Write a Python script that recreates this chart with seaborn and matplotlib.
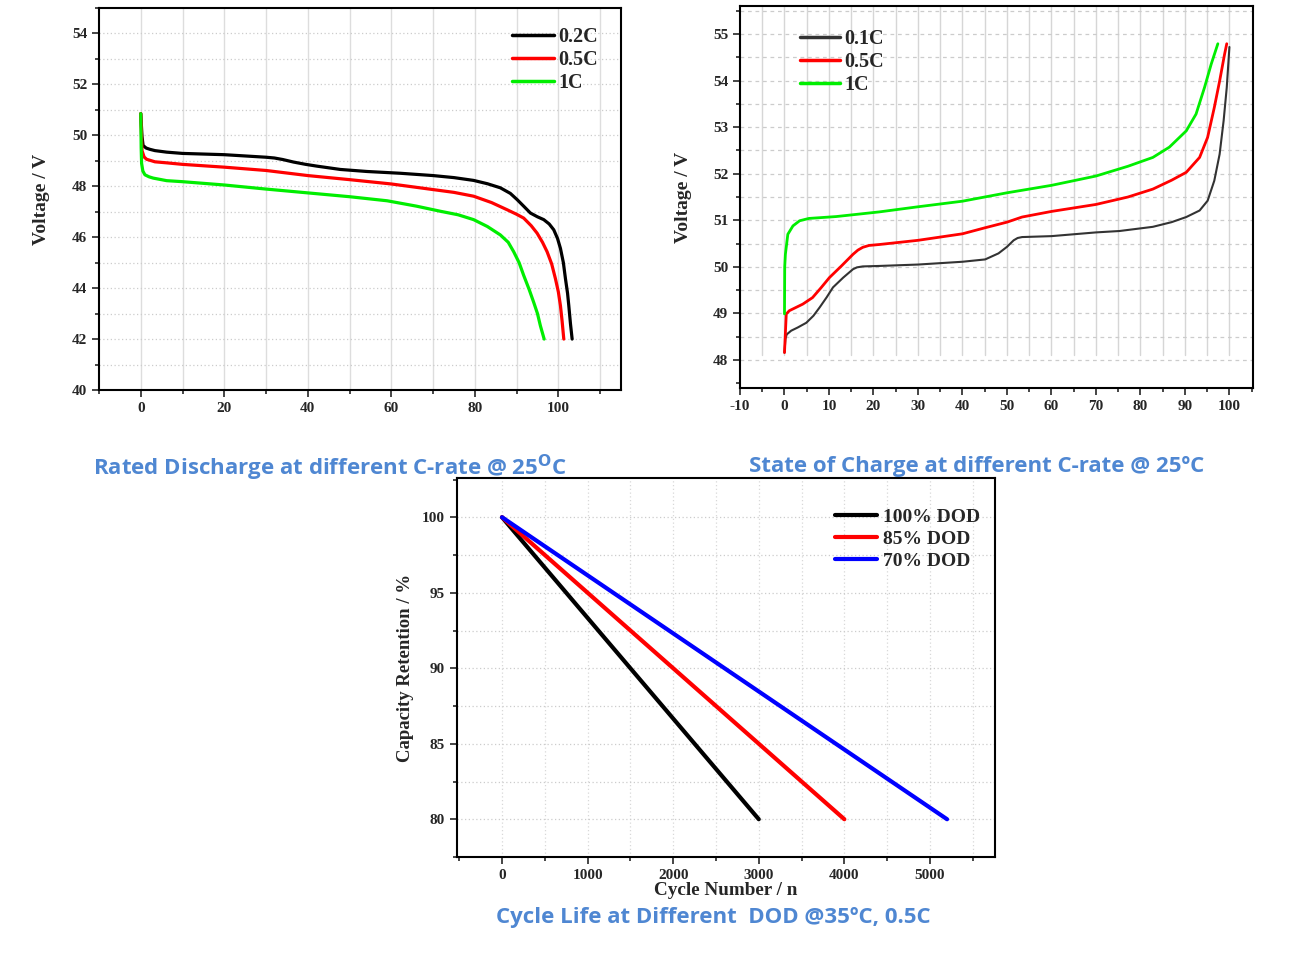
import matplotlib
matplotlib.use("Agg")
import matplotlib.pyplot as plt
import pandas as pd
import seaborn as sns
import numpy as np
from matplotlib.ticker import MultipleLocator

# discharge curves, x = capacity %, y = voltage
dis_02c_x = [0, 0.3, 0.56, 1.3, 2.2, 3.4, 6.2, 10, 20, 26, 30, 32, 34, 36.6, 39.5, 42.2, 47.8, 54.2, 62.2,
             70, 75, 79.7, 83, 86.1, 88.5, 90.1, 91.8, 93.3, 95, 96.5, 97.8, 98.9, 99.8, 100.5, 101.2,
             101.7, 102.2, 102.5, 102.9, 103.3]
dis_02c_y = [50.85, 49.95, 49.6, 49.5, 49.45, 49.4, 49.34, 49.29, 49.24, 49.18, 49.14, 49.11, 49.05,
             48.95, 48.86, 48.79, 48.66, 48.58, 48.51, 48.42, 48.34, 48.23, 48.1, 47.94, 47.72, 47.48,
             47.2, 46.95, 46.8, 46.69, 46.52, 46.29, 45.95, 45.56, 45.0, 44.37, 43.8, 43.31, 42.6, 42.0]
dis_05c_x = [0, 0.3, 0.8, 1.4, 3.4, 6.2, 10, 20, 30, 40, 50, 60, 70, 75, 79.7, 84, 87.7, 90, 91.7, 93.5,
             94.9, 96.2, 97.3, 98.4, 99.3, 100, 100.5, 100.9, 101.3]
dis_05c_y = [50.85, 49.4, 49.15, 49.06, 48.96, 48.92, 48.86, 48.75, 48.62, 48.42, 48.26, 48.09, 47.87,
             47.76, 47.61, 47.36, 47.08, 46.9, 46.75, 46.45, 46.16, 45.8, 45.43, 44.95, 44.37, 43.85, 43.31,
             42.7, 42.0]
dis_1c_x = [0, 0.1, 0.2, 0.5, 1.0, 2, 3, 6.2, 10, 20, 30, 40, 50, 59, 66, 71.7, 76, 79.7, 83, 86.1, 88,
            89.3, 90.6, 91.7, 93, 94.1, 95, 95.7, 96.6]
dis_1c_y = [50.85, 49.5, 48.9, 48.6, 48.45, 48.37, 48.32, 48.22, 48.18, 48.05, 47.89, 47.74, 47.59, 47.43,
            47.22, 47.02, 46.88, 46.69, 46.42, 46.09, 45.8, 45.43, 45.0, 44.5, 43.95, 43.44, 43.0, 42.52, 42.0]

# charge curves, x = state of charge %, y = voltage
chg_01c_x = [0, 0.2, 0.5, 1.5, 3, 4.9, 6.5, 7.9, 9.5, 10.9, 13.2, 15.4, 16.3, 17.6, 21.3, 30, 40, 45.1,
             48.1, 50, 51.5, 52.4, 53.4, 60, 70, 75.3, 82.8, 87, 90.3, 93.3, 95.1, 96.6, 97.8, 98.7, 99.4, 100]
chg_01c_y = [48.16, 48.45, 48.55, 48.63, 48.7, 48.8, 48.95, 49.13, 49.35, 49.56, 49.77, 49.95, 49.99,
             50.01, 50.02, 50.05, 50.11, 50.16, 50.29, 50.43, 50.57, 50.62, 50.64, 50.66, 50.74, 50.77,
             50.86, 50.96, 51.07, 51.21, 51.42, 51.85, 52.42, 53.14, 53.85, 54.72]
chg_05c_x = [0, 0.4, 1.1, 4.1, 6.3, 8.2, 10.1, 12.8, 15.4, 16.5, 17.6, 19, 21.3, 30, 40, 45.1, 50, 53.4,
             60, 70, 77.2, 82.8, 87, 90.3, 93.3, 95.1, 96.6, 97.8, 98.9, 99.4]
chg_05c_y = [48.16, 48.99, 49.06, 49.2, 49.34, 49.55, 49.77, 50.02, 50.27, 50.36, 50.42, 50.46, 50.48,
             50.57, 50.71, 50.84, 50.96, 51.07, 51.19, 51.34, 51.5, 51.67, 51.86, 52.03, 52.35, 52.78,
             53.42, 53.99, 54.56, 54.79]
chg_1c_x = [0, 0.05, 0.2, 0.75, 1.9, 3.4, 5.5, 11.6, 21.3, 30, 40, 50, 60, 70, 77.2, 82.8, 86.5, 90.3,
            92.5, 94.4, 95.9, 97.4]
chg_1c_y = [48.99, 50.0, 50.27, 50.7, 50.88, 50.99, 51.04, 51.08, 51.18, 51.29, 51.41, 51.59, 51.75,
            51.95, 52.16, 52.35, 52.57, 52.92, 53.28, 53.85, 54.35, 54.79]

# cycle life
cyc_start = 0
cyc_end = [3000, 4000, 5200]
cap_start = 100
cap_end = 80
dod_labels = ["100% DOD", "85% DOD", "70% DOD"]

title_color = "#4F87D2"
serif = "Liberation Serif"

sns.set_style("white")
plt.rcParams["font.family"] = serif
plt.rcParams["font.weight"] = "bold"
plt.rcParams["axes.unicode_minus"] = False
plt.rcParams["lines.solid_joinstyle"] = "round"

fig = plt.figure(figsize=(13.15, 9.59), dpi=100)
W, H = 1315, 959


def axes_px(l, t, r, b):
    return fig.add_axes([l / W, 1 - b / H, (r - l) / W, (b - t) / H])


def style_axes(ax):
    for s in ax.spines.values():
        s.set_linewidth(1.5)
        s.set_color("black")
    ax.tick_params(which="both", direction="out", bottom=True, left=True, top=False, right=False,
                   labelsize=11, width=1.2)
    ax.tick_params(which="major", length=5)
    ax.tick_params(which="minor", length=3)
    for lab in ax.get_xticklabels() + ax.get_yticklabels():
        lab.set_fontweight("bold")


def style_legend(leg, lw):
    for h in leg.get_lines():
        h.set_linewidth(lw)


# ---- discharge ----
ax1 = axes_px(99, 8, 621, 390)
df1 = pd.concat([
    pd.DataFrame({"x": dis_02c_x, "y": dis_02c_y, "rate": "0.2C"}),
    pd.DataFrame({"x": dis_05c_x, "y": dis_05c_y, "rate": "0.5C"}),
    pd.DataFrame({"x": dis_1c_x, "y": dis_1c_y, "rate": "1C"}),
])
sns.lineplot(data=df1, x="x", y="y", hue="rate", palette=["black", "#FF0000", "#00EE00"],
             sort=False, estimator=None, linewidth=2.3, ax=ax1)
ax1.set_xlim(-10, 115)
ax1.set_ylim(40, 55)
ax1.set_xticks([0, 20, 40, 60, 80, 100])
ax1.xaxis.set_minor_locator(MultipleLocator(10))
ax1.set_yticks([40, 42, 44, 46, 48, 50, 52, 54])
ax1.yaxis.set_minor_locator(MultipleLocator(1))
for xv in range(0, 111, 10):
    ax1.axvline(xv, color="#dddddd", lw=1.0, zorder=0)
for yv in range(41, 55):
    ax1.axhline(yv, color="#cccccc", lw=0.9, ls=(0, (1, 2)), zorder=0)
ax1.set_xlabel("")
ax1.set_ylabel("Voltage / V", fontsize=14, fontweight="bold", labelpad=16)
style_axes(ax1)
leg = ax1.legend(loc="upper right", bbox_to_anchor=(0.99, 0.998), frameon=False, handlelength=2.1,
                 handletextpad=0.2, labelspacing=0.15, prop={"family": serif, "weight": "bold", "size": 14.5})
style_legend(leg, 2.5)

# ---- charge ----
ax2 = axes_px(740, 6, 1253, 388)
df2 = pd.concat([
    pd.DataFrame({"x": chg_01c_x, "y": chg_01c_y, "rate": "0.1C"}),
    pd.DataFrame({"x": chg_05c_x, "y": chg_05c_y, "rate": "0.5C"}),
    pd.DataFrame({"x": chg_1c_x, "y": chg_1c_y, "rate": "1C"}),
])
sns.lineplot(data=df2, x="x", y="y", hue="rate", palette=["#333333", "#FF0000", "#00EE00"],
             sort=False, estimator=None, linewidth=2.0, ax=ax2)
ax2.lines[0].set_linewidth(1.5)
ax2.set_xlim(-10, 105.3)
ax2.set_ylim(47.4, 55.6)
ax2.set_xticks(range(-10, 101, 10))
ax2.xaxis.set_minor_locator(MultipleLocator(5))
ax2.set_yticks(range(48, 56))
ax2.yaxis.set_minor_locator(MultipleLocator(0.5))
for xv in range(-5, 101, 5):
    ax2.axvline(xv, ymin=(48.1 - 47.4) / 8.2, color="#d6d6d6", lw=1.0, zorder=0)
for yv in np.arange(48, 55.6, 0.5):
    ax2.axhline(yv, color="#cccccc", lw=0.9, ls=(0, (3, 3)), zorder=0)
ax2.set_xlabel("")
ax2.set_ylabel("Voltage / V", fontsize=14, fontweight="bold", labelpad=15)
style_axes(ax2)
leg = ax2.legend(loc="upper left", bbox_to_anchor=(0.082, 0.988), frameon=False, handlelength=2.0,
                 handletextpad=0.2, labelspacing=0.15, prop={"family": serif, "weight": "bold", "size": 14.5})
style_legend(leg, 2.5)

# ---- cycle life ----
ax3 = axes_px(457, 478, 995, 857)
df3 = pd.concat([
    pd.DataFrame({"x": [cyc_start, e], "y": [cap_start, cap_end], "dod": lab})
    for e, lab in zip(cyc_end, dod_labels)
])
sns.lineplot(data=df3, x="x", y="y", hue="dod", palette=["black", "#FF0000", "#0000FF"],
             sort=False, estimator=None, linewidth=3.0, ax=ax3)
ax3.set_xlim(-526, 5760)
ax3.set_ylim(77.5, 102.6)
ax3.set_xticks(range(0, 5001, 1000))
ax3.xaxis.set_minor_locator(MultipleLocator(500))
ax3.set_yticks([80, 85, 90, 95, 100])
ax3.yaxis.set_minor_locator(MultipleLocator(2.5))
for xv in range(0, 5501, 500):
    ax3.axvline(xv, color="#d8d8d8", lw=0.9, ls=(0, (1, 2)), zorder=0)
for yv in np.arange(80, 102, 2.5):
    ax3.axhline(yv, color="#cccccc", lw=0.9, ls=(0, (1, 2)), zorder=0)
ax3.set_xlabel("Cycle Number / n", fontsize=13.8, fontweight="bold", labelpad=0)
ax3.set_ylabel("Capacity Retention / %", fontsize=13.5, fontweight="bold", labelpad=6)
style_axes(ax3)
leg = ax3.legend(loc="upper right", bbox_to_anchor=(1.004, 0.966), frameon=False, handlelength=2.15,
                 handletextpad=0.3, labelspacing=0.22, prop={"family": serif, "weight": "bold", "size": 14})
style_legend(leg, 3.0)

# ---- captions ----
cap_font = {"family": "Open Sans", "weight": "bold", "size": 16, "color": title_color}
fig.text(330 / W, 1 - 468 / H, "Rated Discharge at different C-rate @ 25$^{\\mathsf{O}}$C",
         ha="center", va="center", fontdict=cap_font)
fig.text(977 / W, 1 - 466 / H, "State of Charge at different C-rate @ 25ºC",
         ha="center", va="center", fontdict=cap_font)
fig.text(713 / W, 1 - 917 / H, "Cycle Life at Different  DOD @35ºC, 0.5C",
         ha="center", va="center", fontdict=cap_font)

fig.savefig("out.png", dpi=100)
